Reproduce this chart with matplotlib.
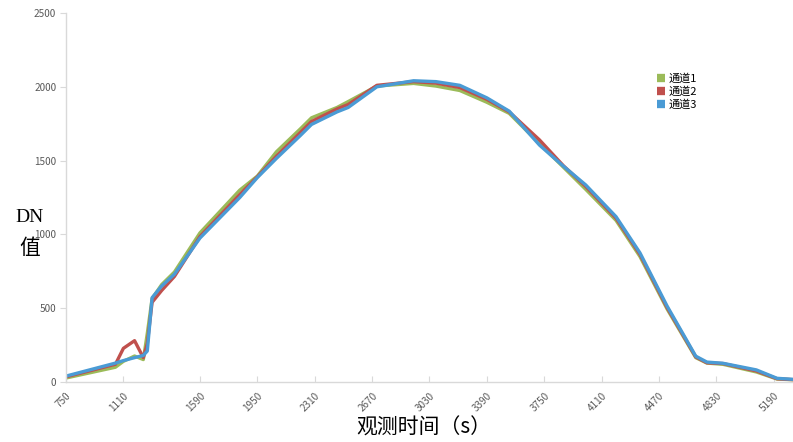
import matplotlib
matplotlib.use("Agg")
import matplotlib.pyplot as plt

plt.rcParams['font.family'] = ['Noto Sans CJK SC', 'DejaVu Sans']

# observation time (s) and DN values per channel
times = [750, 1060, 1110, 1180, 1235, 1260, 1290, 1350, 1430, 1590, 1840, 1950,
         2070, 2220, 2290, 2450, 2520, 2700, 2930, 3070, 3220, 3390, 3530, 3720,
         3870, 4010, 4200, 4350, 4520, 4700, 4770, 4870, 5080, 5210, 5310]
ch1 = [27, 100, 140, 176, 152, 330, 565, 660, 745, 1010, 1300, 1395,
       1560, 1715, 1790, 1860, 1900, 2005, 2023, 2005, 1975, 1895, 1820, 1615,
       1455, 1305, 1095, 850, 495, 165, 128, 120, 68, 20, 15]
ch2 = [35, 120, 228, 280, 165, 260, 540, 620, 715, 985, 1270, 1390,
       1530, 1690, 1765, 1850, 1880, 2010, 2035, 2025, 1995, 1915, 1830, 1640,
       1465, 1325, 1110, 865, 505, 170, 130, 125, 75, 22, 16]
ch3 = [40, 128, 145, 165, 180, 210, 571, 650, 730, 975, 1250, 1385,
       1515, 1670, 1745, 1830, 1860, 2000, 2041, 2035, 2010, 1925, 1835, 1605,
       1462, 1335, 1120, 875, 515, 175, 135, 127, 82, 25, 18]

names = ['通道1', '通道2', '通道3']
colors = ['#9BBB59', '#C0504D', '#4A9BD5']

xticks = [750, 1110, 1590, 1950, 2310, 2670, 3030, 3390, 3750, 4110, 4470, 4830, 5190]
yticks = [0, 500, 1000, 1500, 2000, 2500]

fig = plt.figure(figsize=(7.93, 4.42), dpi=100)
ax = fig.add_axes([66 / 793, 60 / 442, 727 / 793, 369 / 442])

for ys, name, c in zip([ch1, ch2, ch3], names, colors):
    ax.plot(times, ys, color=c, lw=2.4, label=name, solid_joinstyle='round')

ax.set_xlim(750, 5310)
ax.set_ylim(0, 2500)
ax.set_xticks(xticks)
ax.set_yticks(yticks)
ax.set_xticklabels([str(t) for t in xticks], rotation=45, ha='right',
                   rotation_mode='anchor', fontsize=7.2, color='#595959')
ax.set_yticklabels([str(t) for t in yticks], fontsize=7.2, color='#595959')

for s in ['top', 'right']:
    ax.spines[s].set_visible(False)
for s in ['left', 'bottom']:
    ax.spines[s].set_color('#D9D9D9')
    ax.spines[s].set_linewidth(1.0)
ax.tick_params(axis='x', direction='in', length=4, color='#D9D9D9', pad=6)
ax.tick_params(axis='y', direction='out', length=4, color='#D9D9D9', pad=3)

leg = ax.legend(loc='upper left', bbox_to_anchor=(585 / 727, 314 / 369),
                frameon=False, fontsize=8, handlelength=0.8, handleheight=0.8,
                handletextpad=0.3, labelspacing=0.2, borderpad=0)
for h, c in zip(leg.legend_handles, colors):
    h.set_linewidth(6)
    h.set_solid_capstyle('butt')

fig.text(30 / 793, 1 - 218 / 442, 'DN', ha='center', va='center', fontsize=14,
         family=['Liberation Serif', 'DejaVu Serif'])
fig.text(30 / 793, 1 - 248 / 442, '值', ha='center', va='center', fontsize=15)
fig.text(424 / 793, 1 - 428 / 442, '观测时间（s）', ha='center', va='center', fontsize=15)

fig.savefig('out.png', dpi=100, facecolor='white')
